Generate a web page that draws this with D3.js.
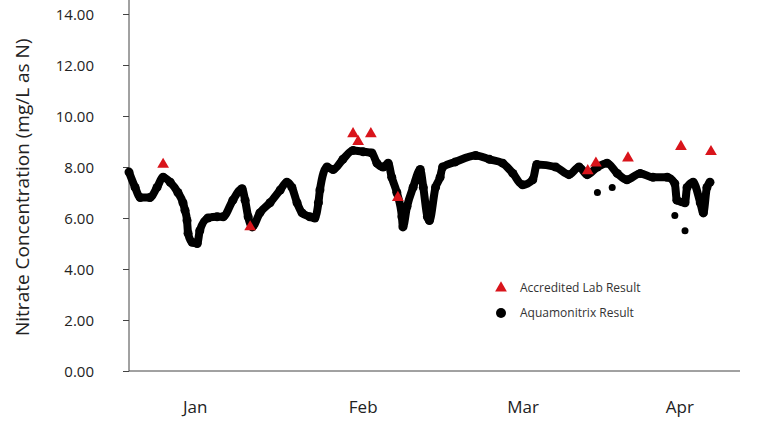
<!DOCTYPE html>
<html><head><meta charset="utf-8">
<script src="https://cdn.jsdelivr.net/npm/d3@7"></script>
<style>body{margin:0;background:#fff}text{font-family:"Open Sans",sans-serif}</style>
</head><body><svg id="c" width="768" height="432"></svg>
<script>
const sensorDays=[0,1.2,2.2,4.1,5.5,6.7,8.1,9.6,10.6,11.0,11.4,11.6,12.4,13.4,13.9,15.5,17.3,18.5,20.4,22.2,22.8,23.4,24.2,25.7,27.7,29.7,31.0,32.0,33.0,34.0,35.5,36.5,37.2,37.5,38.9,40.1,42.0,44.0,46.0,47.7,48.7,49.9,50.9,51.6,52.6,53.6,53.8,54.6,55.8,57.2,57.8,58.6,59.0,60.2,61.1,61.6,64.1,68.1,70.8,73.4,75.4,77.3,79.3,80.1,83.8,86.4,88.4,90.0,92.0,93.9,95.9,97.8,100.4,102.9,105.7,107.2,107.6,109.2,109.6,110.8,112.2,112.8,113.5,114.1];
const sensorValues=[7.8,7.2,6.8,6.8,7.2,7.6,7.4,7.0,6.6,6.3,5.9,5.4,5.05,5.0,5.5,6.0,6.05,6.05,6.7,7.15,6.7,6.05,5.65,6.2,6.6,7.1,7.4,7.2,6.6,6.2,6.05,6.0,6.6,7.1,8.0,7.9,8.3,8.65,8.6,8.55,8.15,8.0,8.15,7.6,7.0,6.05,5.65,6.45,7.2,7.9,7.2,6.05,5.9,7.2,7.6,8.0,8.2,8.45,8.3,8.15,7.75,7.3,7.5,8.1,8.0,7.7,8.0,7.7,8.0,8.15,7.75,7.5,7.75,7.6,7.6,7.35,6.7,6.6,7.2,7.4,6.6,6.2,7.2,7.4];
const outlierDays=[92.0,94.9,107.2,109.2];
const outlierValues=[7.0,7.2,6.1,5.5];
const labDays=[6.7,23.8,44.0,45.0,47.5,52.8,90.1,91.7,98.0,108.4,114.3];
const labValues=[8.1,5.65,9.3,9.0,9.3,6.8,7.85,8.15,8.35,8.8,8.6];
const monthLabels=["Jan","Feb","Mar","Apr"];
const monthDays=[13,46,77.4,108.2];
const yTicks=[0,2,4,6,8,10,12,14];

const svg=d3.select("#c");
const x=d3.scaleLinear().domain([0,120]).range([129,740]);
const y=d3.scaleLinear().domain([0,14]).range([371,14]);

const ya=svg.append("g").attr("transform","translate(129,0)")
 .call(d3.axisLeft(y).tickValues(yTicks).tickFormat(d3.format(".2f")).tickSize(6).tickSizeOuter(0));
ya.select(".domain").attr("d","M0,0V371").attr("stroke","#444");
ya.selectAll(".tick line").attr("stroke","#444");
ya.selectAll(".tick text").attr("font-size",15).attr("fill","#222").attr("x",-35).attr("dy","0.35em");

svg.append("line").attr("x1",129).attr("x2",740).attr("y1",371).attr("y2",371).attr("stroke","#444");
svg.selectAll(".mon").data(monthLabels).enter().append("text")
 .attr("x",(d,i)=>x(monthDays[i])).attr("y",413).attr("text-anchor","middle")
 .attr("font-size",17).attr("fill","#222").text(d=>d);

svg.append("text").attr("transform","translate(29,336) rotate(-90)").attr("font-size",19).attr("fill","#222")
 .text("Nitrate Concentration (mg/L as N)");

const pts=sensorDays.map((d,i)=>[d,sensorValues[i]]);
svg.append("path").datum(pts).attr("fill","none").attr("stroke","#000").attr("stroke-width",8)
 .attr("stroke-linejoin","round").attr("d",d3.line().x(d=>x(d[0])).y(d=>y(d[1])).curve(d3.curveMonotoneX));
svg.selectAll(".pt").data(pts).enter().append("circle")
 .attr("cx",d=>x(d[0])).attr("cy",d=>y(d[1])).attr("r",4.5).attr("fill","#000");
svg.selectAll(".out").data(outlierDays).enter().append("circle")
 .attr("cx",d=>x(d)).attr("cy",(d,i)=>y(outlierValues[i])).attr("r",3.5).attr("fill","#000");

const tri=d3.symbol().type(d3.symbolTriangle).size(60);
svg.selectAll(".lab").data(labDays).enter().append("path").attr("d",tri)
 .attr("transform",(d,i)=>`translate(${x(d)},${y(labValues[i])})`).attr("fill","#d9141b");

svg.append("path").attr("d",tri).attr("transform","translate(501,288)").attr("fill","#d9141b");
svg.append("circle").attr("cx",501).attr("cy",313).attr("r",5).attr("fill","#000");
svg.append("text").attr("x",520).attr("y",292).attr("font-size",12).attr("fill","#333").text("Accredited Lab Result");
svg.append("text").attr("x",520).attr("y",317).attr("font-size",12).attr("fill","#333").text("Aquamonitrix Result");
</script></body></html>
